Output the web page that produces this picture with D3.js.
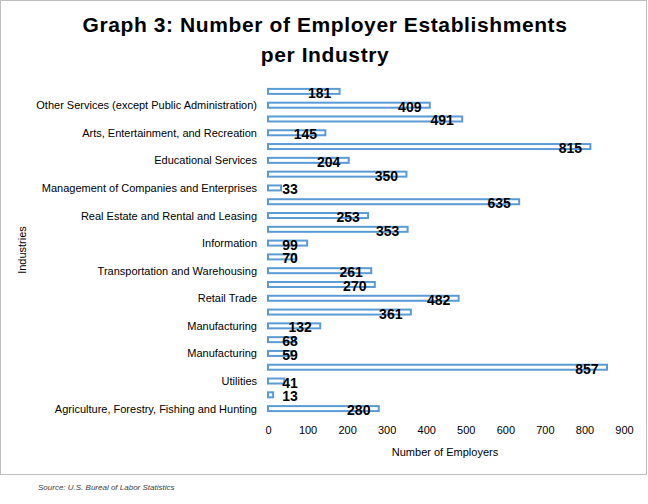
<!DOCTYPE html>
<html><head><meta charset="utf-8">
<script src="https://cdn.jsdelivr.net/npm/d3@7"></script>
<style>body{margin:0;background:#fff}text{font-family:"Liberation Sans",Arial,sans-serif}</style>
</head><body><div id="chart"></div>
<script>
// categories bottom to top
const industries = ["Agriculture, Forestry, Fishing and Hunting","Mining","Utilities","Construction",
  "Manufacturing","Manufacturing (2)","Manufacturing","Wholesale Trade","Retail Trade","Retail Trade (2)",
  "Transportation and Warehousing","Transportation (2)","Information","Finance and Insurance",
  "Real Estate and Rental and Leasing","Professional, Scientific, and Technical Services",
  "Management of Companies and Enterprises","Administrative and Support Services","Educational Services",
  "Health Care and Social Assistance","Arts, Entertainment, and Recreation","Accommodation and Food Services",
  "Other Services (except Public Administration)","Public Administration"]
const employers = [280,13,41,857,59,68,132,361,482,270,261,70,99,353,253,635,33,350,204,815,145,491,409,181]
const xTicks = [0,100,200,300,400,500,600,700,800,900]

const W = 648, H = 504
const svg = d3.select("#chart").append("svg").attr("width", W).attr("height", H)

svg.append("rect").attr("x",0.5).attr("y",0.5).attr("width",646).attr("height",474)
  .attr("fill","#fff").attr("stroke","#bfbfbf")

const idx = industries.map((d,i) => i)
const x = d3.scaleLinear().domain([0,900]).range([268,624])
const y = d3.scaleBand().domain(idx.slice().reverse()).range([85,416])

svg.append("text").attr("x",325).attr("y",32).attr("text-anchor","middle").attr("letter-spacing","0.6px")
  .attr("font-size","21px").attr("font-weight","bold").text("Graph 3: Number of Employer Establishments")
svg.append("text").attr("x",325).attr("y",62).attr("text-anchor","middle").attr("letter-spacing","0.6px")
  .attr("font-size","21px").attr("font-weight","bold").text("per Industry")

// y axis labels (every other category)
svg.append("g").attr("transform","translate(263,0)")
  .call(d3.axisLeft(y).tickSize(0).tickPadding(6).tickFormat(i => i % 2 === 0 ? industries[i].replace(/ \(2\)$/,"") : ""))
  .call(g => g.select(".domain").remove())
  .selectAll("text").attr("font-size","11px").attr("fill","#000")

svg.append("g").attr("transform","translate(0,420)")
  .call(d3.axisBottom(x).tickValues(xTicks).tickSize(0).tickPadding(6))
  .call(g => g.select(".domain").remove())
  .selectAll("text").attr("font-size","11px").attr("fill","#000")

svg.selectAll("rect.bar").data(idx).join("rect").attr("class","bar")
  .attr("x", x(0)).attr("y", i => y(i) + y.bandwidth()/2 - 3)
  .attr("width", i => x(employers[i]) - x(0)).attr("height", 5)
  .attr("fill","#fff").attr("stroke","#5b9bd5").attr("stroke-width",2)

svg.selectAll("text.val").data(idx).join("text").attr("class","val")
  .attr("x", i => Math.max(x(employers[i]) - 20, 290))
  .attr("y", i => y(i) + y.bandwidth()/2 + 6)
  .attr("text-anchor","middle").attr("font-size","14px").attr("font-weight","bold")
  .text(i => employers[i])

svg.append("text").attr("transform","translate(26,250) rotate(-90)").attr("text-anchor","middle")
  .attr("font-size","11px").text("Industries")
svg.append("text").attr("x",445).attr("y",456).attr("text-anchor","middle")
  .attr("font-size","11px").text("Number  of Employers")
svg.append("text").attr("x",38).attr("y",490).attr("font-size","8px").attr("font-style","italic")
  .attr("fill","#404040").text("Source: U.S. Bureal of Labor Statistics")
</script></body></html>
